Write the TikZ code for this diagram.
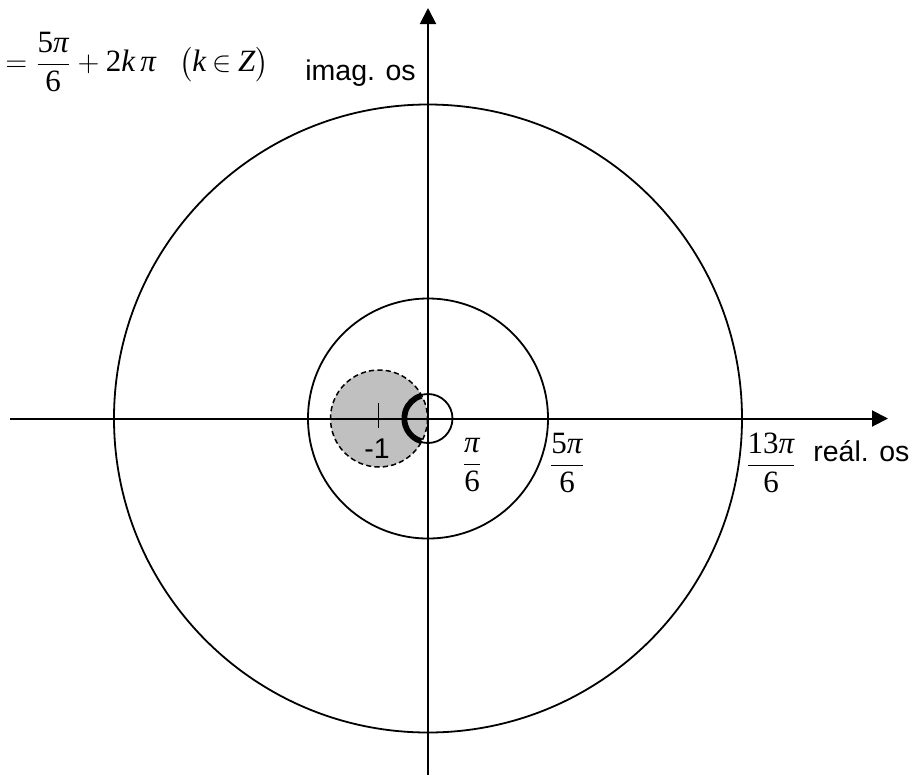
\documentclass[tikz,border=0pt]{standalone}
\usepackage{amsmath}
\usepackage{fontspec}
\setmainfont{Liberation Serif}
\newfontfamily\arialf{Liberation Sans}
\usetikzlibrary{arrows.meta}
\definecolor{silver}{RGB}{192,192,192}
\newcommand{\tm}[1]{\text{#1}}
\newcommand{\ti}[1]{\text{\itshape #1}}
\begin{document}
\begin{tikzpicture}[x=0.5pt,y=-0.5pt,
  axis/.style={line width=1pt,-{Triangle[length=8pt,width=8pt]}},
  ring/.style={line width=0.9pt},
  disk/.style={fill=silver,draw=black,line width=0.75pt,dash pattern=on 2.6pt off 1.6pt},
  thickarc/.style={line width=2.9pt},
  lbl/.style={inner sep=0pt,font=\arialf\fontsize{14.25}{17}\selectfont},
  mth/.style={inner sep=0pt,font=\fontsize{15.5}{18}\selectfont}]
\useasboundingbox (0,0) rectangle (922,778);
\coordinate (O) at (428,418.5);
\coordinate (M) at (379,418.5);
% shaded disk
\path[disk] (M) circle (48.5);
% axes
\coordinate (xl) at (10,418.5);
\coordinate (xr) at (888,418.5);
\coordinate (yb) at (428,775);
\coordinate (yt) at (428,8);
\draw[axis] (xl) -- (xr);
\draw[axis] (yb) -- (yt);
% circles
\draw[ring] (O) circle (314);
\draw[ring] (O) circle (120);
\draw[ring] (O) circle (24.5);
% thick arc
\draw[thickarc] ([shift={(107:23.7)}]O) arc[start angle=107,end angle=253,radius=23.7];
% tick at -1
\coordinate (t1) at (378.5,403);
\coordinate (t2) at (378.5,428);
\draw[line width=0.9pt] (t1) -- (t2);
% labels
\node[lbl] (m1) at (377,449) {-1};
\node[mth] (f1) at (472,465) {$\dfrac{\ti{π}}{\tm{6}}$};
\node[mth] (f2) at (567,463) {$\dfrac{\tm{5}\ti{π}}{\tm{6}}$};
\node[mth] (f3) at (771,463) {$\dfrac{\tm{13}\ti{π}}{\tm{6}}$};
\node[lbl,anchor=base west] (re) at (813,461) {reál. os};
\node[lbl,anchor=base west] (im) at (305,80) {imag. os};
\node[mth,anchor=west] (eq) at (5,62) {$=\dfrac{\tm{5}\ti{π}}{\tm{6}}+\tm{2}\ti{k\,π}\hspace{0.75em}\bigl(\ti{k}\mathbin{\in}\ti{Z}\bigr)$};
\end{tikzpicture}
\end{document}
